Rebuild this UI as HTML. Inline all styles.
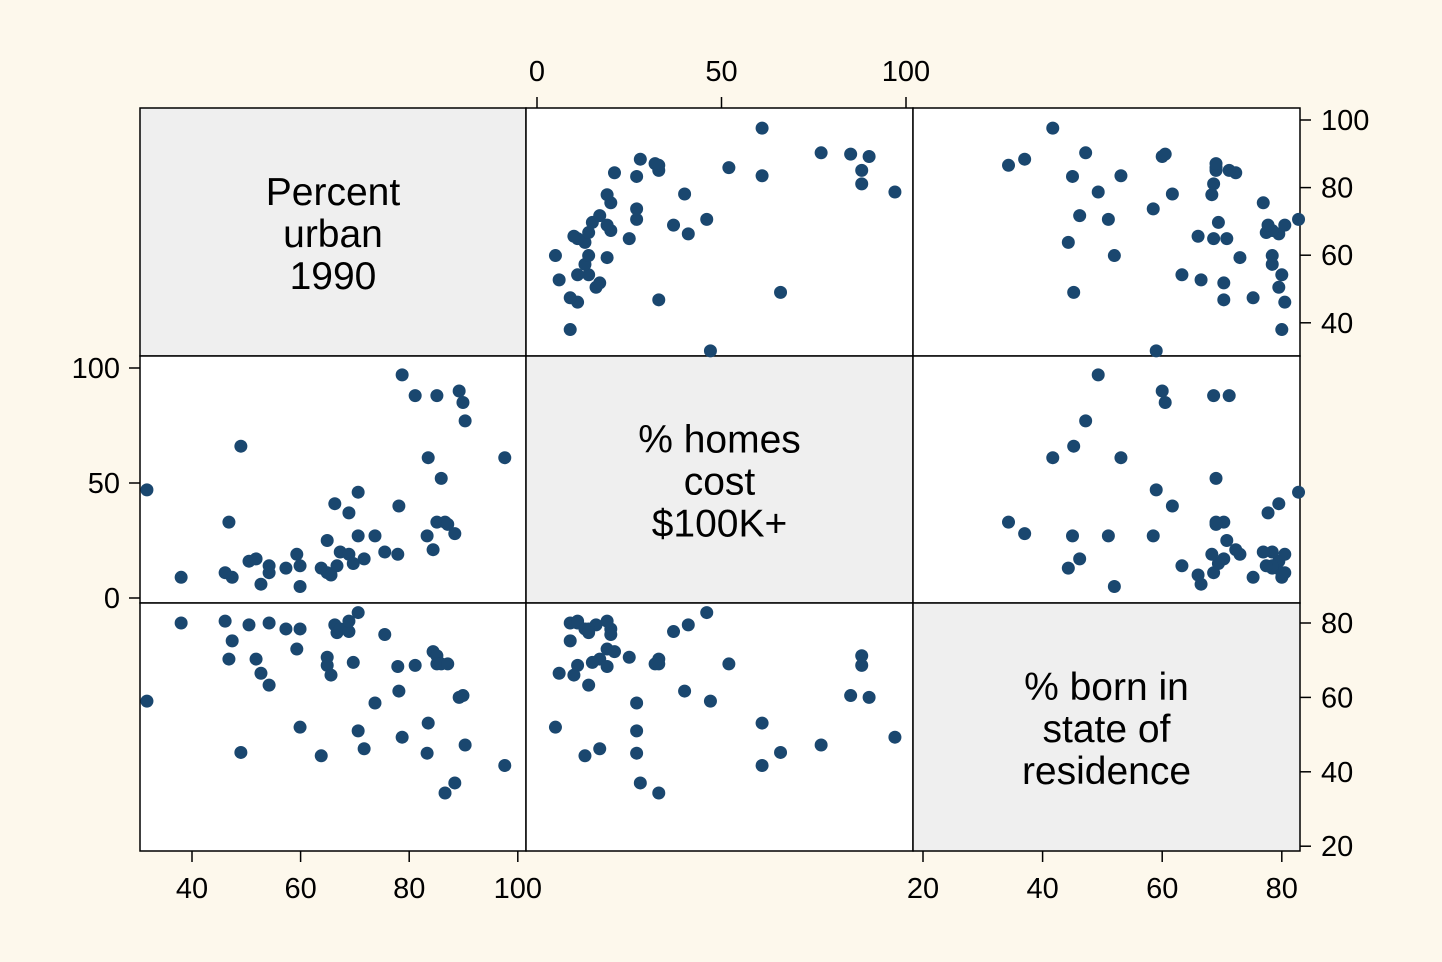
<!DOCTYPE html>
<html><head><meta charset="utf-8"><style>
body{margin:0;background:#fdf8ec;}
svg{display:block;font-family:"Liberation Sans",Arial,sans-serif;}
</style></head><body>
<svg id="chart" width="1442" height="962" viewBox="0 0 1442 962" xmlns="http://www.w3.org/2000/svg">
<rect width="1442" height="962" fill="#fdf8ec"/>
<g id="cells"></g><g id="dots"></g><g id="axes"></g>
</svg>
<script>
const urban=[31.7,38,46.1,46.8,47.4,49,50.5,51.8,52.7,54.2,54.2,57.3,59.3,59.9,59.9,63.8,64.9,64.9,65.6,66.3,66.7,67.3,68.9,68.9,69.7,70.6,70.6,71.7,73.7,75.5,77.9,78.1,78.7,81.1,83.5,83.3,84.4,85.1,85.1,85.9,86.6,87.1,88.4,89.2,89.9,90.3,97.6];
const homes=[47,9,11,33,9,66,16,17,6,14,11,13,19,14,5,13,25,11,10,41,14,20,37,19,15,46,27,17,27,20,19,40,97,88,61,27,21,88,33,52,33,32,28,90,85,77,61];
const born=[59,80,80.5,70.3,75.2,45.2,79.5,70.3,66.5,63.3,80,78.4,73,78.4,52,44.3,70.8,68.6,66,79.5,77.4,78.4,77.7,80.5,69.4,82.8,51,46.2,58.5,76.9,68.3,61.7,49.3,68.6,53.1,45,72.3,71.2,69,69,34.3,69,37,60,60.5,47.2,41.7];
const urbanTicks=[40,60,80,100], homesTicks=[0,50,100], bornTicks=[20,40,60,80];
const labels=[["Percent","urban","1990"],["% homes","cost","$100K+"],["% born in","state of","residence"]];
const names=["urban","homes","born"];
const data=[urban,homes,born];
const NS="http://www.w3.org/2000/svg";
const xs=[v=>192+(v-40)*5.43, v=>537+v*3.69, v=>923+(v-20)*5.98];
const ys=[v=>120+(100-v)*3.38, v=>598-v*2.3, v=>623+(80-v)*3.72];
const X0=[140,526,913,1300], Y0=[108,356,603,851];
function el(t,a,p){const e=document.createElementNS(NS,t);for(const k in a)e.setAttribute(k,a[k]);p.appendChild(e);return e;}
const cells=document.getElementById('cells'),dots=document.getElementById('dots'),axes=document.getElementById('axes');
for(let r=0;r<3;r++)for(let c=0;c<3;c++){
  const rc=el('rect',{x:X0[c],y:Y0[r],width:X0[c+1]-X0[c],height:Y0[r+1]-Y0[r],fill:r===c?'#efefef':'#fff',stroke:'#000','stroke-width':1.5},cells);
  
  
  if(r===c){
    const cx=(X0[c]+X0[c+1])/2, cy=(Y0[r]+Y0[r+1])/2;
    labels[r].forEach((s,i)=>{const t=el('text',{x:cx,y:cy-27+i*42,'font-size':39,'text-anchor':'middle'},cells);t.textContent=s;
      
      });
  } else {
    for(let i=0;i<urban.length;i++){
      const d=el('circle',{cx:xs[c](data[c][i]),cy:ys[r](data[r][i]),r:6.5,fill:'#1a476f'},dots);
      
      
    }
  }
}
function axis(kind,ticks,f,pos){
  ticks.forEach(v=>{
    let p=f(v),t;
    if(kind==='top'){el('line',{x1:p,x2:p,y1:pos-11,y2:pos,stroke:'#000','stroke-width':1.5},axes);t=el('text',{x:p,y:pos-27,'font-size':29,'text-anchor':'middle'},axes);}
    if(kind==='bottom'){el('line',{x1:p,x2:p,y1:pos,y2:pos+11,stroke:'#000','stroke-width':1.5},axes);t=el('text',{x:p,y:pos+47,'font-size':29,'text-anchor':'middle'},axes);}
    if(kind==='left'){el('line',{x1:pos-11,x2:pos,y1:p,y2:p,stroke:'#000','stroke-width':1.5},axes);t=el('text',{x:pos-20,y:p+10,'font-size':29,'text-anchor':'end'},axes);}
    if(kind==='right'){el('line',{x1:pos,x2:pos+11,y1:p,y2:p,stroke:'#000','stroke-width':1.5},axes);t=el('text',{x:pos+21,y:p+10,'font-size':29,'text-anchor':'start'},axes);}
    t.textContent=v;
    
    
  });
}
axis('top',homesTicks,xs[1],Y0[0]);
axis('left',homesTicks,ys[1],X0[0]);
axis('right',urbanTicks,ys[0],X0[3]);
axis('right',bornTicks,ys[2],X0[3]);
axis('bottom',urbanTicks,xs[0],Y0[3]);
axis('bottom',bornTicks,xs[2],Y0[3]);
</script>
</body></html>
